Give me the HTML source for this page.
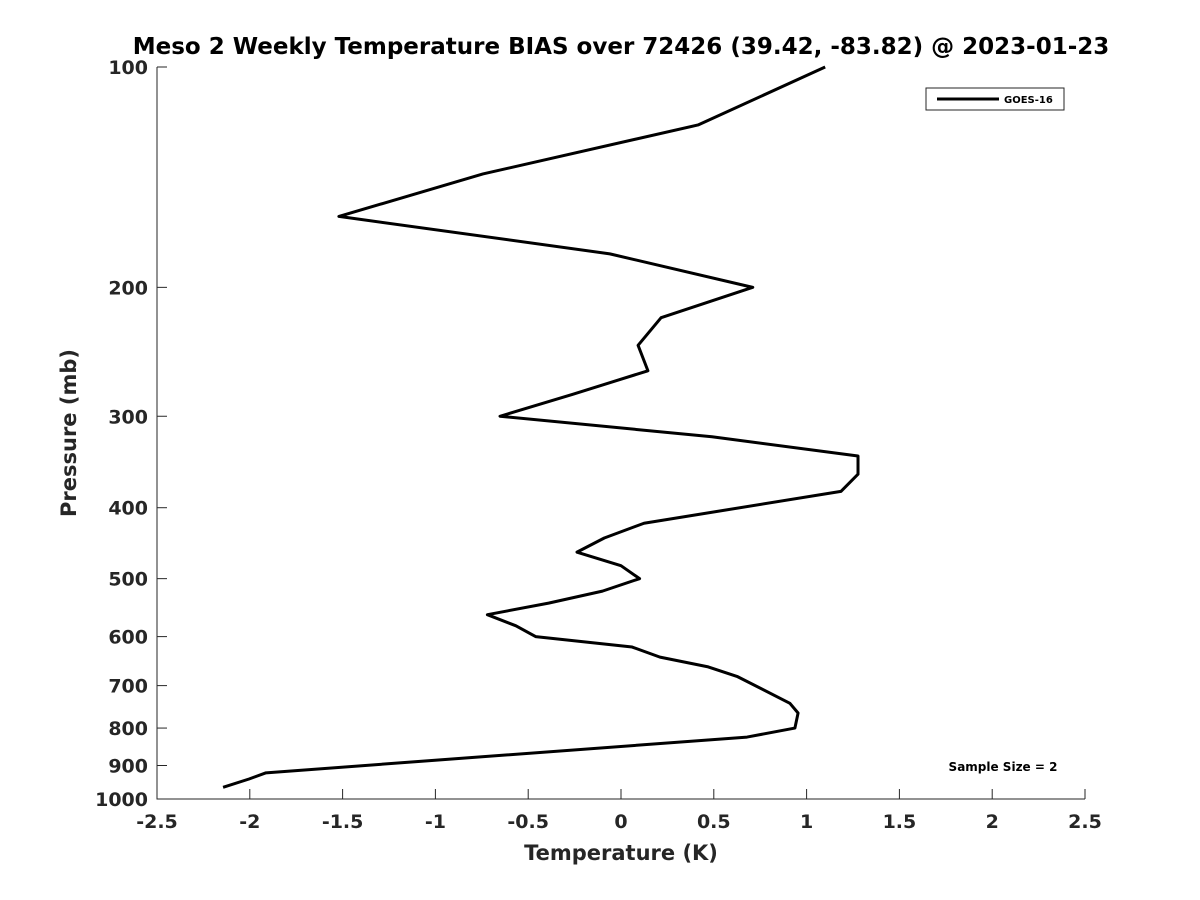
<!DOCTYPE html>
<html><head><meta charset="utf-8"><style>
body{margin:0;background:#fff;}
svg{display:block;font-family:"DejaVu Sans","Liberation Sans",sans-serif;font-weight:bold;}
</style></head><body>
<svg width="1200" height="900">
<g id="axes"></g>
<g id="plot"></g>
</svg>
<script>
const temps=[1.10,0.415,-0.744,-1.52,-0.06,0.71,0.216,0.092,0.145,-0.26,-0.652,0.49,1.277,1.277,1.185,0.124,-0.09,-0.237,0.0,0.10,-0.10,-0.39,-0.72,-0.566,-0.46,0.06,0.21,0.47,0.625,0.91,0.954,0.937,0.679,-1.913,-2.004,-2.144];
const pressures=[100,120,140,160,180,200,220,240,260,280,300,320,340,360,380,420,440,460,480,500,520,540,560,580,600,620,640,660,680,740,763,800,823,921,939,964];
const xTicks=[-2.5,-2,-1.5,-1,-0.5,0,0.5,1,1.5,2,2.5];
const yTicks=[100,200,300,400,500,600,700,800,900,1000];
const L=157,R=1085,T=67,B=799;
const xs=v=>L+(v+2.5)/5*(R-L);
const ys=p=>T+(Math.log10(p)-2)*(B-T);
const NS="http://www.w3.org/2000/svg";
const ax=document.getElementById('axes'),pl=document.getElementById('plot');
function mk(tag,attrs,parent,txt){const e=document.createElementNS(NS,tag);for(const k in attrs)e.setAttribute(k,attrs[k]);if(txt!==undefined)e.textContent=txt;parent.appendChild(e);return e;}
let e;
e=mk('path',{d:`M${L},${T}V${B}H${R}`,fill:'none',stroke:'#262626','stroke-width':1},ax);


xTicks.forEach(v=>{
 e=mk('line',{x1:xs(v),x2:xs(v),y1:B,y2:B-10,stroke:'#262626'},ax);
 
 
 e=mk('text',{x:xs(v),y:B+29,'text-anchor':'middle','font-size':19,fill:'#262626'},ax,String(v));
 
 
});
yTicks.forEach(v=>{
 e=mk('line',{x1:L,x2:L+10,y1:ys(v),y2:ys(v),stroke:'#262626'},ax);
 
 
 e=mk('text',{x:L-9,y:ys(v)+7,'text-anchor':'end','font-size':19,fill:'#262626'},ax,String(v));
 
 
});
e=mk('text',{x:621,y:54,'text-anchor':'middle','font-size':23,fill:'#000'},ax,'Meso 2 Weekly Temperature BIAS over 72426 (39.42, -83.82) @ 2023-01-23');


e=mk('text',{x:621,y:860,'text-anchor':'middle','font-size':21,fill:'#262626'},ax,'Temperature (K)');


e=mk('text',{x:0,y:0,'text-anchor':'middle','font-size':21,fill:'#262626',transform:'translate(76,433) rotate(-90)'},ax,'Pressure (mb)');


e=mk('text',{x:1003,y:771,'text-anchor':'middle','font-size':12,fill:'#000'},ax,'Sample Size = 2');


e=mk('polyline',{points:temps.map((t,i)=>xs(t)+','+ys(pressures[i])).join(' '),fill:'none',stroke:'#000','stroke-width':3,'stroke-linejoin':'round'},pl);


const lg=mk('g',{},pl);


mk('rect',{x:926,y:88,width:138,height:22,fill:'#fff',stroke:'#262626','stroke-width':1},lg);
mk('line',{x1:937,x2:999,y1:99,y2:99,stroke:'#000','stroke-width':3},lg);
e=mk('text',{x:1004,y:103,'font-size':10,fill:'#000'},lg,'GOES-16');


</script>
</body></html>
